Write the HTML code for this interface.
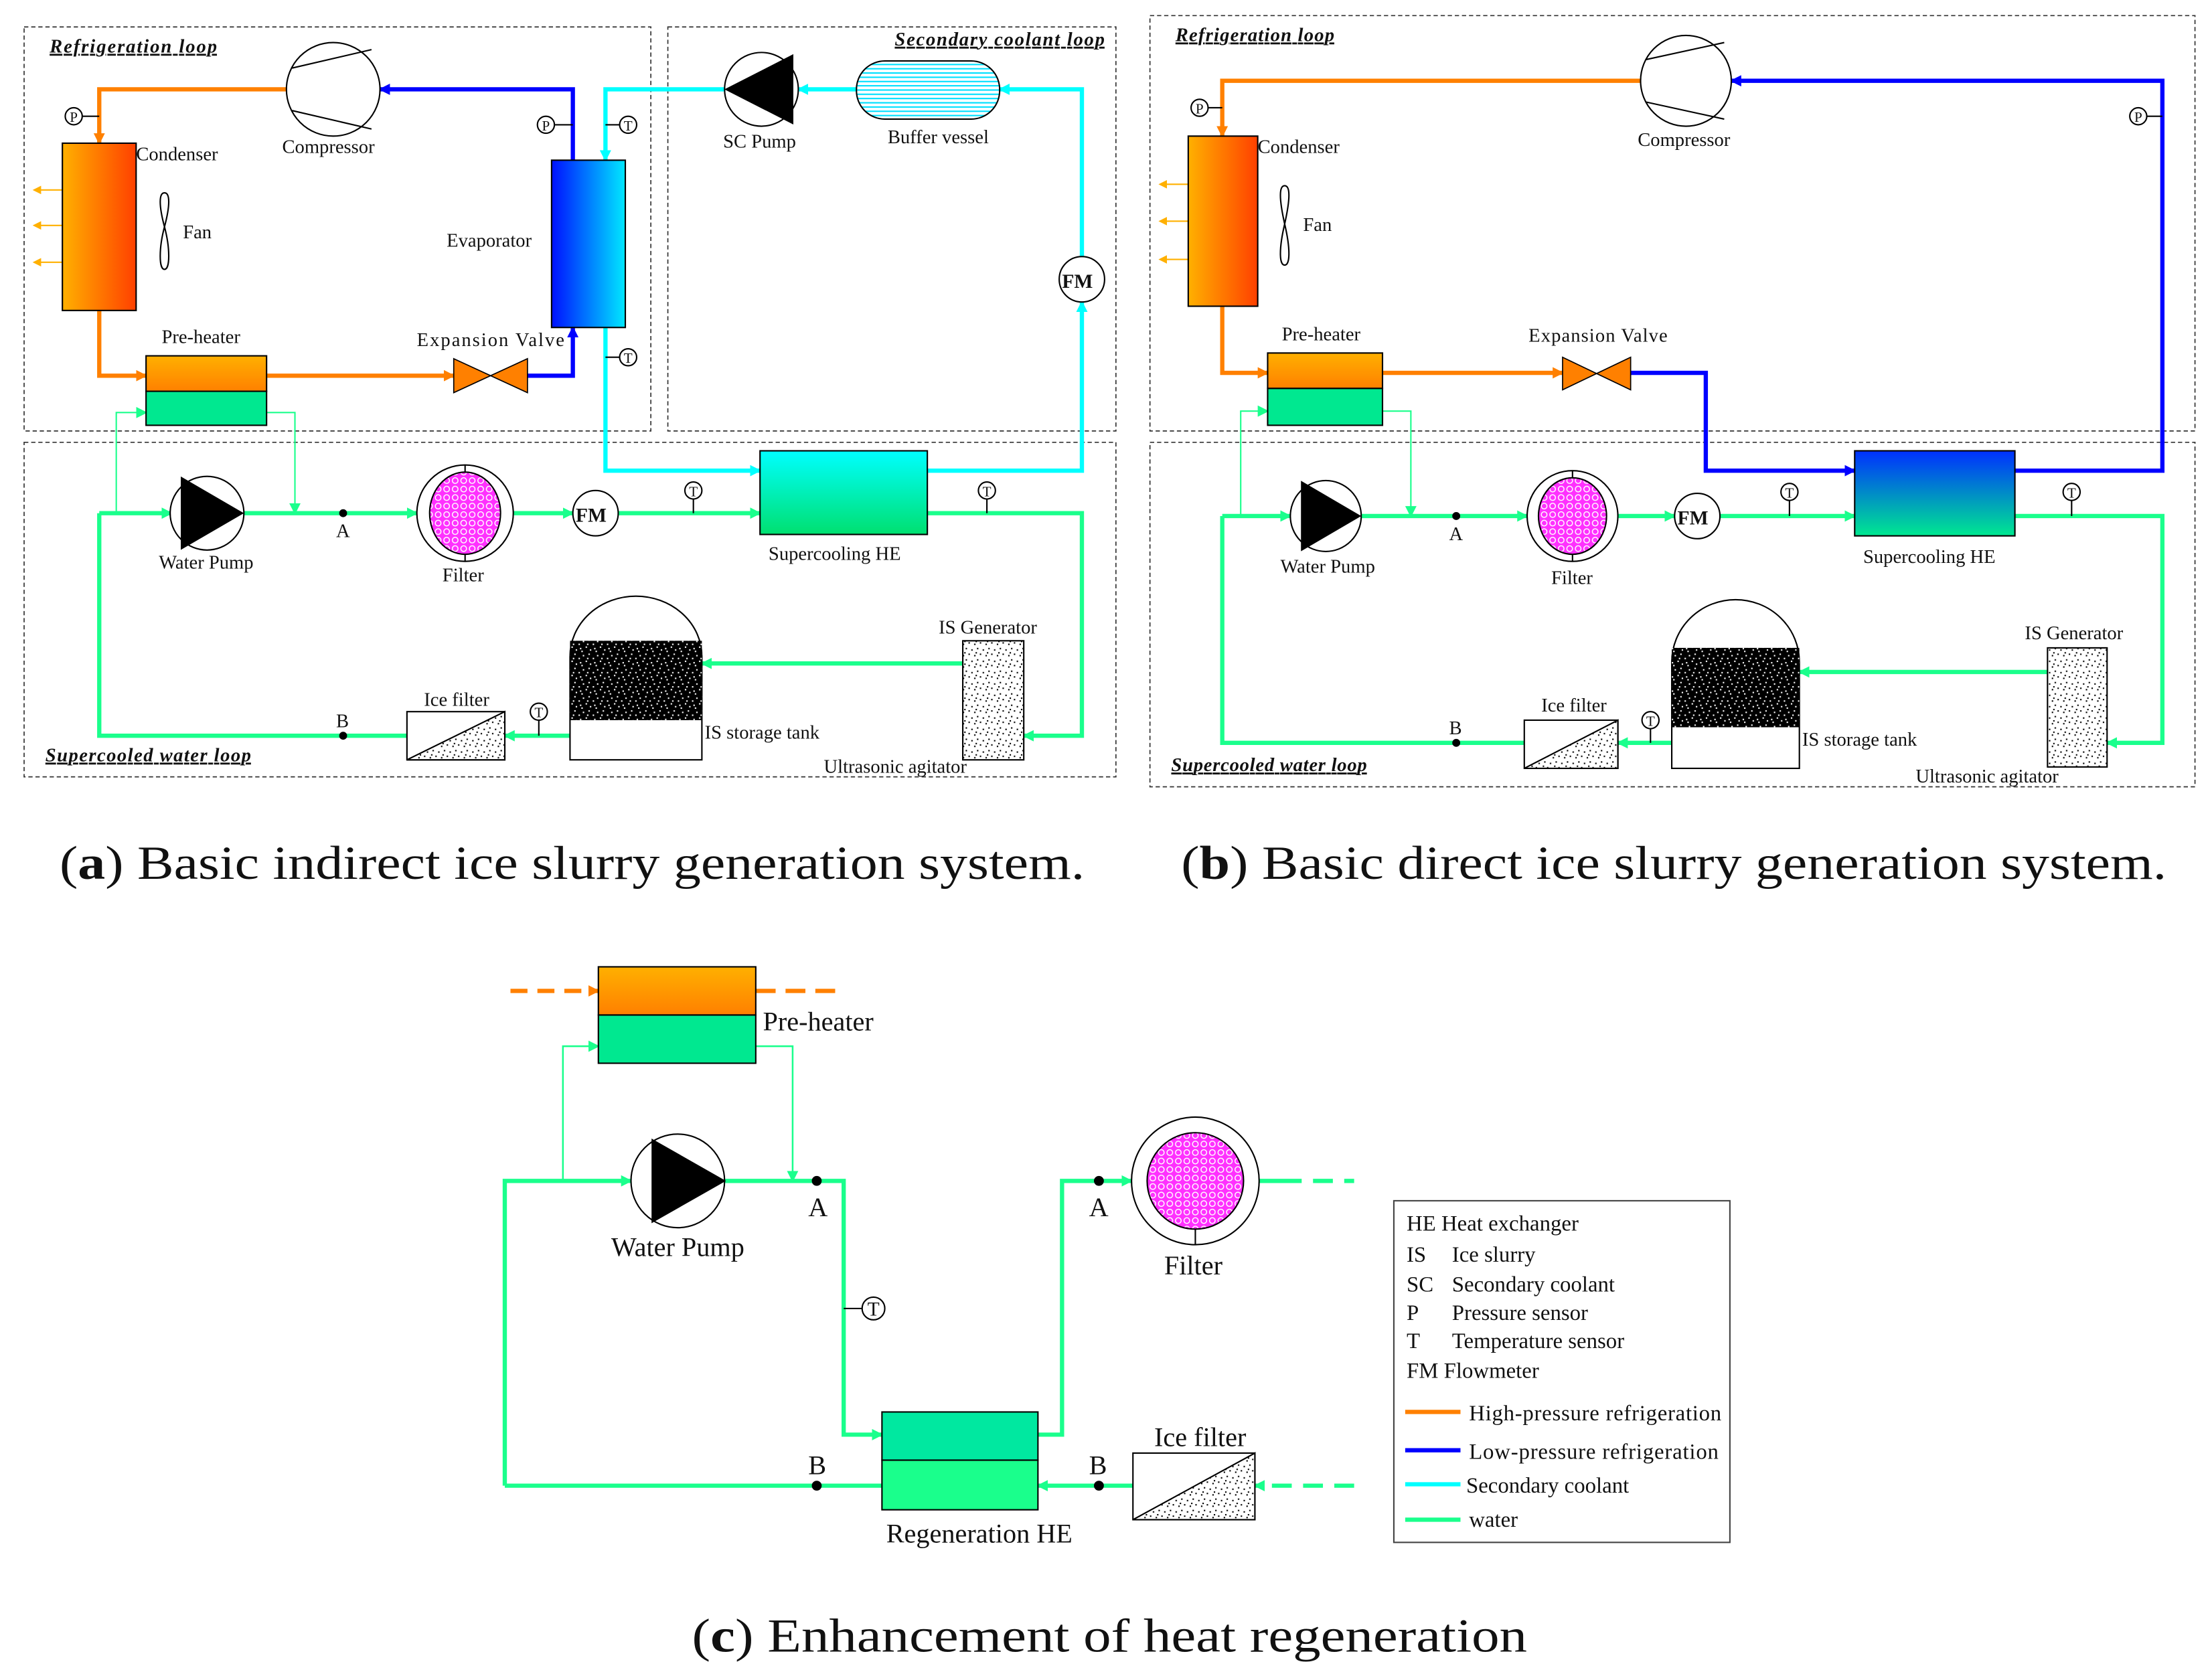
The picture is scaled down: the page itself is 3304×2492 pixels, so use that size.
<!DOCTYPE html>
<html><head><meta charset="utf-8"><style>html,body{margin:0;padding:0;background:#fff}svg{display:block}
text{font-family:"Liberation Serif",serif;fill:#111}</style></head><body>
<svg width="3304" height="2492" viewBox="0 0 1560 1176.6" xmlns="http://www.w3.org/2000/svg">
<defs>
<linearGradient id="gCond" x1="0" x2="1" y1="0" y2="0"><stop offset="0" stop-color="#ffb000"/><stop offset="1" stop-color="#ff4000"/></linearGradient>
<linearGradient id="gEvap" x1="0" x2="1"><stop offset="0" stop-color="#0010ff"/><stop offset="1" stop-color="#00e8ff"/></linearGradient>
<linearGradient id="gHEa" x1="0" x2="0" y1="0" y2="1"><stop offset="0" stop-color="#00ffff"/><stop offset="1" stop-color="#00e070"/></linearGradient>
<linearGradient id="gHEb" x1="0" x2="0" y1="0" y2="1"><stop offset="0" stop-color="#0030ff"/><stop offset="1" stop-color="#00e890"/></linearGradient>
<linearGradient id="gPreO" x1="0" x2="0" y1="0" y2="1"><stop offset="0" stop-color="#ffb000"/><stop offset="1" stop-color="#ff8000"/></linearGradient>
<pattern id="pBlack" width="10" height="10" patternUnits="userSpaceOnUse"><rect width="10" height="10" fill="#000"/>
<rect x="1" y="2" width="1" height="1" fill="#fff"/><rect x="5" y="1" width="1" height="1" fill="#fff"/><rect x="8" y="4" width="1" height="1" fill="#fff"/><rect x="3" y="6" width="1" height="1" fill="#fff"/><rect x="6" y="8" width="1" height="1" fill="#fff"/><rect x="0" y="9" width="1" height="1" fill="#fff"/><rect x="9" y="7" width="1" height="1" fill="#fff"/><rect x="4" y="4" width="1" height="1" fill="#fff"/></pattern>
<pattern id="pDots" width="8" height="8" patternUnits="userSpaceOnUse"><rect width="8" height="8" fill="#fff"/>
<rect x="1" y="1" width="1" height="1" fill="#000"/><rect x="5" y="2" width="1" height="1" fill="#000"/><rect x="3" y="5" width="1" height="1" fill="#000"/><rect x="7" y="6" width="1" height="1" fill="#000"/><rect x="0" y="4" width="1" height="1" fill="#000"/></pattern>
<pattern id="pHex" width="6" height="6" patternUnits="userSpaceOnUse"><rect width="6" height="6" fill="#ff30ff"/><circle cx="3" cy="3" r="2" fill="none" stroke="#fff" stroke-width="0.7"/></pattern>
<pattern id="pBuf" width="4" height="3" patternUnits="userSpaceOnUse"><rect width="4" height="3" fill="#fff"/><rect width="4" height="1" fill="#00e0ff"/></pattern>
<marker id="aO" markerWidth="8" markerHeight="8" refX="7" refY="4" orient="auto" markerUnits="userSpaceOnUse"><path d="M0,0L8,4L0,8z" fill="#ff8000"/></marker>
<marker id="aB" markerWidth="8" markerHeight="8" refX="7" refY="4" orient="auto" markerUnits="userSpaceOnUse"><path d="M0,0L8,4L0,8z" fill="#0000ff"/></marker>
<marker id="aC" markerWidth="8" markerHeight="8" refX="7" refY="4" orient="auto" markerUnits="userSpaceOnUse"><path d="M0,0L8,4L0,8z" fill="#00ffff"/></marker>
<marker id="aG" markerWidth="8" markerHeight="8" refX="7" refY="4" orient="auto" markerUnits="userSpaceOnUse"><path d="M0,0L8,4L0,8z" fill="#1aff8c"/></marker>
<marker id="aY" markerWidth="6" markerHeight="6" refX="5" refY="3" orient="auto" markerUnits="userSpaceOnUse"><path d="M0,0L6,3L0,6z" fill="#ffb000"/></marker>
</defs>
<g fill="none" stroke-linejoin="miter">
<rect x="17" y="19" width="442" height="285" stroke="#333" stroke-dasharray="3,2" stroke-width="0.8"/>
<rect x="471" y="19" width="316" height="285" stroke="#333" stroke-dasharray="3,2" stroke-width="0.8"/>
<rect x="17" y="312" width="770" height="236" stroke="#333" stroke-dasharray="3,2" stroke-width="0.8"/>
<path d="M202,63H70V101" stroke="#ff8000" stroke-width="3" marker-end="url(#aO)"/>
<path d="M70,219V265H103" stroke="#ff8000" stroke-width="3" marker-end="url(#aO)"/>
<path d="M188,265H320" stroke="#ff8000" stroke-width="3" marker-end="url(#aO)"/>
<path d="M372,265H404V231" stroke="#0000ff" stroke-width="3" marker-end="url(#aB)"/>
<path d="M404,113V63H268" stroke="#0000ff" stroke-width="3" marker-end="url(#aB)"/>
<path d="M511,63H427V113" stroke="#00ffff" stroke-width="3" marker-end="url(#aC)"/>
<path d="M427,231V332H536" stroke="#00ffff" stroke-width="3" marker-end="url(#aC)"/>
<path d="M654,332H763V213" stroke="#00ffff" stroke-width="3" marker-end="url(#aC)"/>
<path d="M763,181V63H705" stroke="#00ffff" stroke-width="3" marker-end="url(#aC)"/>
<path d="M604,63H563" stroke="#00ffff" stroke-width="3" marker-end="url(#aC)"/>
<path d="M70,362H121" stroke="#1aff8c" stroke-width="3" marker-end="url(#aG)"/>
<path d="M171,362H294" stroke="#1aff8c" stroke-width="3" marker-end="url(#aG)"/>
<path d="M362,362H404" stroke="#1aff8c" stroke-width="3" marker-end="url(#aG)"/>
<path d="M436,362H536" stroke="#1aff8c" stroke-width="3" marker-end="url(#aG)"/>
<path d="M654,362H763V519H722" stroke="#1aff8c" stroke-width="3" marker-end="url(#aG)"/>
<path d="M679,468H495" stroke="#1aff8c" stroke-width="3" marker-end="url(#aG)"/>
<path d="M402,519H356" stroke="#1aff8c" stroke-width="3" marker-end="url(#aG)"/>
<path d="M287,519H70V362" stroke="#1aff8c" stroke-width="3"/>
<path d="M82,362V291H103" stroke="#1aff8c" stroke-width="1" marker-end="url(#aG)"/>
<path d="M188,291H208V362" stroke="#1aff8c" stroke-width="1" marker-end="url(#aG)"/>
<path d="M44,134H24" stroke="#ffb000" stroke-width="1" marker-end="url(#aY)"/>
<path d="M44,159H24" stroke="#ffb000" stroke-width="1" marker-end="url(#aY)"/>
<path d="M44,185H24" stroke="#ffb000" stroke-width="1" marker-end="url(#aY)"/>
</g>
<g stroke="#000" stroke-width="1">
<circle cx="235" cy="63" r="33" fill="#fff"/>
<path d="M206,48L262,35M206,78L262,91" fill="none"/>
<rect x="44" y="101" width="52" height="118" fill="url(#gCond)"/>
<path d="M116,136C112,136 112,145 116,160C120,175 120,190 116,190C112,190 112,175 116,160C120,145 120,136 116,136Z" fill="#fff"/>
<rect x="389" y="113" width="52" height="118" fill="url(#gEvap)"/>
<rect x="103" y="251" width="85" height="25" fill="url(#gPreO)"/>
<rect x="103" y="276" width="85" height="24" fill="#00e890"/>
<path d="M320,253L372,277V253L320,277Z" fill="#ff8000" stroke-width="0.8"/>
<rect x="604" y="43" width="101" height="41" rx="20" fill="url(#pBuf)"/>
<circle cx="537" cy="63" r="26" fill="#fff"/>
<path d="M512,63L559,39V87Z" fill="#000"/>
<circle cx="763" cy="197" r="16" fill="#fff"/>
<rect x="536" y="318" width="118" height="59" fill="url(#gHEa)"/>
<circle cx="146" cy="362" r="26" fill="#fff"/>
<path d="M171,362L128,337V387Z" fill="#000"/>
<circle cx="328" cy="362" r="34" fill="#fff"/>
<ellipse cx="328" cy="362" rx="25" ry="29" fill="url(#pHex)"/>
<path d="M328,328V333M328,391V396"/>
<circle cx="420" cy="362" r="16" fill="#fff"/>
<path d="M402,536V463A46,42 0 0 1 495,463V536Z" fill="#fff"/>
<rect x="402" y="452" width="93" height="56" fill="url(#pBlack)" stroke="none"/>
<rect x="679" y="452" width="43" height="84" fill="url(#pDots)"/>
<rect x="287" y="502" width="69" height="34" fill="#fff"/>
<path d="M287,536L356,502V536Z" fill="url(#pDots)"/>
<circle cx="52" cy="82" r="6" fill="#fff"/><path d="M58,82H70"/>
<circle cx="385" cy="88" r="6" fill="#fff"/><path d="M391,88H404"/>
<circle cx="443" cy="88" r="6" fill="#fff"/><path d="M427,88H437"/>
<circle cx="443" cy="252" r="6" fill="#fff"/><path d="M427,252H437"/>
<circle cx="489" cy="346" r="6" fill="#fff"/><path d="M489,352V362"/>
<circle cx="696" cy="346" r="6" fill="#fff"/><path d="M696,352V362"/>
<circle cx="380" cy="502" r="6" fill="#fff"/><path d="M380,508V519"/>
<circle cx="242" cy="362" r="2.3" fill="#000"/><circle cx="242" cy="519" r="2.3" fill="#000"/>
</g>
<g font-size="13.5">
<text x="35" y="37" font-style="italic" font-weight="bold" text-decoration="underline" textLength="118">Refrigeration  loop</text>
<text x="631" y="32" font-style="italic" font-weight="bold" text-decoration="underline" textLength="148">Secondary coolant  loop</text>
<text x="32" y="537" font-style="italic" font-weight="bold" text-decoration="underline" textLength="145">Supercooled water loop</text>
<text x="96" y="113">Condenser</text><text x="199" y="108">Compressor</text><text x="129" y="168">Fan</text>
<text x="315" y="174">Evaporator</text><text x="114" y="242">Pre-heater</text><text x="294" y="244" textLength="104">Expansion Valve</text>
<text x="510" y="104">SC Pump</text><text x="626" y="101">Buffer vessel</text>
<text x="112" y="401">Water Pump</text><text x="312" y="410">Filter</text><text x="542" y="395">Supercooling HE</text>
<text x="662" y="447">IS Generator</text><text x="497" y="521">IS storage tank</text><text x="581" y="545">Ultrasonic agitator</text>
<text x="299" y="498">Ice filter</text><text x="237" y="379">A</text><text x="237" y="513">B</text>
<text x="749" y="203" font-weight="bold" font-size="14">FM</text><text x="406" y="368" font-weight="bold" font-size="14">FM</text>
</g>

<g fill="none">
<rect x="811" y="11" width="737" height="293" stroke="#333" stroke-dasharray="3,2" stroke-width="0.8"/>
<rect x="811" y="312" width="737" height="243" stroke="#333" stroke-dasharray="3,2" stroke-width="0.8"/>
<path d="M1157,57H862V96" stroke="#ff8000" stroke-width="3" marker-end="url(#aO)"/>
<path d="M862,216V263H894" stroke="#ff8000" stroke-width="3" marker-end="url(#aO)"/>
<path d="M975,263H1102" stroke="#ff8000" stroke-width="3" marker-end="url(#aO)"/>
<path d="M1150,263H1203V332H1308" stroke="#0000ff" stroke-width="3" marker-end="url(#aB)"/>
<path d="M1421,332H1525V57H1221" stroke="#0000ff" stroke-width="3" marker-end="url(#aB)"/>
<path d="M862,364H910" stroke="#1aff8c" stroke-width="3" marker-end="url(#aG)"/>
<path d="M960,364H1077" stroke="#1aff8c" stroke-width="3" marker-end="url(#aG)"/>
<path d="M1141,364H1181" stroke="#1aff8c" stroke-width="3" marker-end="url(#aG)"/>
<path d="M1213,364H1308" stroke="#1aff8c" stroke-width="3" marker-end="url(#aG)"/>
<path d="M1421,364H1525V524H1486" stroke="#1aff8c" stroke-width="3" marker-end="url(#aG)"/>
<path d="M1444,474H1269" stroke="#1aff8c" stroke-width="3" marker-end="url(#aG)"/>
<path d="M1179,524H1141" stroke="#1aff8c" stroke-width="3" marker-end="url(#aG)"/>
<path d="M1075,524H862V364" stroke="#1aff8c" stroke-width="3"/>
<path d="M875,364V290H894" stroke="#1aff8c" stroke-width="1" marker-end="url(#aG)"/>
<path d="M975,290H995V364" stroke="#1aff8c" stroke-width="1" marker-end="url(#aG)"/>
<path d="M838,130H818" stroke="#ffb000" stroke-width="1" marker-end="url(#aY)"/>
<path d="M838,156H818" stroke="#ffb000" stroke-width="1" marker-end="url(#aY)"/>
<path d="M838,183H818" stroke="#ffb000" stroke-width="1" marker-end="url(#aY)"/>
</g>
<g stroke="#000" stroke-width="1">
<circle cx="1189" cy="57" r="32" fill="#fff"/>
<path d="M1161,42L1216,30M1161,72L1216,84" fill="none"/>
<rect x="838" y="96" width="49" height="120" fill="url(#gCond)"/>
<path d="M906,131C902,131 902,140 906,158C910,175 910,187 906,187C902,187 902,175 906,158C910,140 910,131 906,131Z" fill="#fff"/>
<rect x="894" y="249" width="81" height="25" fill="url(#gPreO)"/>
<rect x="894" y="274" width="81" height="26" fill="#00e890"/>
<path d="M1102,252L1150,275V252L1102,275Z" fill="#ff8000" stroke-width="0.8"/>
<rect x="1308" y="318" width="113" height="60" fill="url(#gHEb)"/>
<circle cx="935" cy="364" r="25" fill="#fff"/>
<path d="M959,364L918,340V388Z" fill="#000"/>
<circle cx="1109" cy="364" r="32" fill="#fff"/>
<ellipse cx="1109" cy="364" rx="24" ry="27" fill="url(#pHex)"/>
<path d="M1109,332V337M1109,391V396"/>
<circle cx="1197" cy="364" r="16" fill="#fff"/>
<path d="M1179,542V467A45,44 0 0 1 1269,467V542Z" fill="#fff"/>
<rect x="1179" y="457" width="90" height="56" fill="url(#pBlack)" stroke="none"/>
<rect x="1444" y="457" width="42" height="84" fill="url(#pDots)"/>
<rect x="1075" y="508" width="66" height="34" fill="#fff"/>
<path d="M1075,542L1141,508V542Z" fill="url(#pDots)"/>
<circle cx="846" cy="76" r="6" fill="#fff"/><path d="M852,76H862"/>
<circle cx="1508" cy="82" r="6" fill="#fff"/><path d="M1514,82H1525"/>
<circle cx="1262" cy="347" r="6" fill="#fff"/><path d="M1262,353V364"/>
<circle cx="1461" cy="347" r="6" fill="#fff"/><path d="M1461,353V364"/>
<circle cx="1164" cy="508" r="6" fill="#fff"/><path d="M1164,514V524"/>
<circle cx="1027" cy="364" r="2.3" fill="#000"/><circle cx="1027" cy="524" r="2.3" fill="#000"/>
</g>
<g font-size="13.5">
<text x="829" y="29" font-style="italic" font-weight="bold" text-decoration="underline" textLength="112">Refrigeration  loop</text>
<text x="826" y="544" font-style="italic" font-weight="bold" text-decoration="underline" textLength="138">Supercooled water loop</text>
<text x="887" y="108">Condenser</text><text x="1155" y="103">Compressor</text><text x="919" y="163">Fan</text>
<text x="904" y="240">Pre-heater</text><text x="1078" y="241" textLength="98">Expansion Valve</text>
<text x="903" y="404">Water Pump</text><text x="1094" y="412">Filter</text><text x="1314" y="397">Supercooling HE</text>
<text x="1428" y="451">IS Generator</text><text x="1271" y="526">IS storage tank</text><text x="1351" y="552">Ultrasonic agitator</text>
<text x="1087" y="502">Ice filter</text><text x="1022" y="381">A</text><text x="1022" y="518">B</text>
<text x="1183" y="370" font-weight="bold" font-size="14">FM</text>
</g>

<g fill="none">
<path d="M360,699H422" stroke="#ff8000" stroke-width="3" stroke-dasharray="12,7" marker-end="url(#aO)"/>
<path d="M533,699H592" stroke="#ff8000" stroke-width="3" stroke-dasharray="14,7"/>
<path d="M397,833V738H422" stroke="#1aff8c" stroke-width="1.2" marker-end="url(#aG)"/>
<path d="M533,738H559V833" stroke="#1aff8c" stroke-width="1.2" marker-end="url(#aG)"/>
<path d="M356,1048V833H445" stroke="#1aff8c" stroke-width="3" marker-end="url(#aG)"/>
<path d="M511,833H595V1012H622" stroke="#1aff8c" stroke-width="3" marker-end="url(#aG)"/>
<path d="M732,1012H749V833H798" stroke="#1aff8c" stroke-width="3" marker-end="url(#aG)"/>
<path d="M888,833H955" stroke="#1aff8c" stroke-width="3" stroke-dasharray="30,8,14,8,14,8"/>
<path d="M955,1048H885" stroke="#1aff8c" stroke-width="3" stroke-dasharray="14,8" marker-end="url(#aG)"/>
<path d="M799,1048H732" stroke="#1aff8c" stroke-width="3" marker-end="url(#aG)"/>
<path d="M622,1048H356" stroke="#1aff8c" stroke-width="3"/>
</g>
<g stroke="#000" stroke-width="1">
<rect x="422" y="682" width="111" height="34" fill="url(#gPreO)"/>
<rect x="422" y="716" width="111" height="34" fill="#00e890"/>
<circle cx="478" cy="833" r="33" fill="#fff"/>
<path d="M511,833L460,804V862Z" fill="#000"/>
<circle cx="843" cy="833" r="45" fill="#fff"/>
<circle cx="843" cy="833" r="34" fill="url(#pHex)"/>
<path d="M843,867V878"/>
<rect x="622" y="996" width="110" height="34" fill="#00e8a0"/>
<rect x="622" y="1030" width="110" height="35" fill="#1aff8c"/>
<rect x="799" y="1025" width="86" height="47" fill="#fff"/>
<path d="M799,1072L885,1025V1072Z" fill="url(#pDots)"/>
<circle cx="616" cy="923" r="8" fill="#fff"/><path d="M595,923H608"/>
<circle cx="576" cy="833" r="3" fill="#000"/><circle cx="775" cy="833" r="3" fill="#000"/>
<circle cx="576" cy="1048" r="3" fill="#000"/><circle cx="775" cy="1048" r="3" fill="#000"/>
<rect x="983" y="847" width="237" height="241" fill="#fff" stroke="#444"/>
</g>
<g stroke-width="3">
<path d="M991,996H1030" stroke="#ff8000"/><path d="M991,1023H1030" stroke="#0000ff"/>
<path d="M991,1047H1030" stroke="#00ffff"/><path d="M991,1072H1030" stroke="#1aff8c"/>
</g>
<g font-size="10" text-anchor="middle">
<text x="52" y="86">P</text><text x="385" y="92">P</text><text x="443" y="92">T</text><text x="443" y="256">T</text><text x="489" y="350">T</text><text x="696" y="350">T</text><text x="380" y="506">T</text>
<text x="846" y="80">P</text><text x="1508" y="86">P</text><text x="1262" y="351">T</text><text x="1461" y="351">T</text><text x="1164" y="512">T</text><text x="616" y="928" font-size="14">T</text>
</g>
<g font-size="19">
<text x="538" y="727">Pre-heater</text><text x="431" y="886">Water Pump</text><text x="821" y="899">Filter</text>
<text x="570" y="858">A</text><text x="768" y="858">A</text><text x="570" y="1040">B</text><text x="768" y="1040">B</text>
<text x="625" y="1088">Regeneration HE</text><text x="814" y="1020">Ice filter</text>
</g>
<g font-size="15.5">
<text x="992" y="868">HE  Heat exchanger</text><text x="992" y="890">IS</text><text x="1024" y="890">Ice slurry</text>
<text x="992" y="911">SC</text><text x="1024" y="911">Secondary coolant</text>
<text x="992" y="931">P</text><text x="1024" y="931">Pressure sensor</text>
<text x="992" y="951">T</text><text x="1024" y="951">Temperature sensor</text>
<text x="992" y="972">FM  Flowmeter</text>
<text x="1036" y="1002" textLength="178">High-pressure refrigeration</text><text x="1036" y="1029" textLength="176">Low-pressure refrigeration</text>
<text x="1034" y="1053">Secondary coolant</text><text x="1036" y="1077">water</text>
</g>
<g font-size="33.5">
<text x="42" y="620" textLength="723" lengthAdjust="spacingAndGlyphs">(<tspan font-weight="bold">a</tspan>) Basic indirect ice slurry generation system.</text>
<text x="833" y="620" textLength="695" lengthAdjust="spacingAndGlyphs">(<tspan font-weight="bold">b</tspan>) Basic direct ice slurry generation system.</text>
<text x="488" y="1165" textLength="589" lengthAdjust="spacingAndGlyphs">(<tspan font-weight="bold">c</tspan>) Enhancement of heat regeneration</text>
</g>
</svg>
</body></html>
